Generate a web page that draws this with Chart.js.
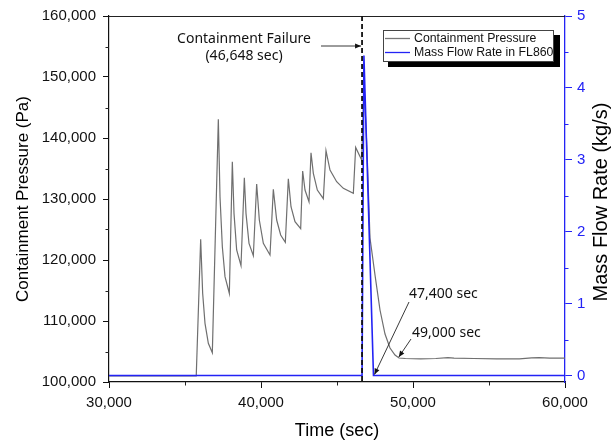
<!DOCTYPE html>
<html><head><meta charset="utf-8">
<script src="https://cdn.jsdelivr.net/npm/chart.js@4/dist/chart.umd.min.js"></script>
<style>html,body{margin:0;padding:0;background:#fff}#wrap{width:614px;height:443px}</style>
</head><body><div id="wrap"><canvas id="c" width="614" height="443"></canvas></div>
<script>
// ---- data ----
const pressureTime = [30000, 35740, 36031, 36162, 36316, 36535, 36798, 37193, 37303, 37456, 37632, 37917,
  38114, 38224, 38399, 38684, 38904, 39013, 39211, 39496, 39715, 39890, 40154, 40592,
  40811, 41031, 41294, 41601, 41798, 41974, 42237, 42610, 42741, 42895, 43158,
  43290, 43443, 43706, 44101, 44276, 44540, 44978, 45417, 46075, 46228, 46623,
  46780, 46974, 47171, 47500, 47829, 48158, 48487, 48816, 49079,
  49500, 50500, 51500, 52300, 52700, 54000, 55500, 57000, 57800, 58300, 59000, 60000];
const pressurePa = [101000, 101000, 123385, 114535, 109618, 106340, 104810, 143052, 130378, 122183, 117267, 114535,
  136114, 127646, 121637, 119069, 133491, 127646, 122729, 120707, 132453, 126553, 122729, 120816,
  131579, 126553, 124095, 122893, 133327, 128739, 126280, 125133, 134584, 131470, 129558,
  137589, 134202, 131470, 130050, 137916, 134748, 132836, 131743, 130924, 138462, 136386,
  148500, 138025, 123602, 117537, 111801, 107867, 105573, 104425, 103934,
  103850, 103800, 103850, 104000, 103900, 103850, 103800, 103800, 103950, 104000, 103900, 103900];
const flowTime = [30000, 46648, 46770, 47400, 60000];
const flowRate = [0, 0, 4.45, 0, 0];
const xTicks = [30000, 40000, 50000, 60000];
const pressureTicks = [100000, 110000, 120000, 130000, 140000, 150000, 160000];
const flowTicks = [0, 1, 2, 3, 4, 5];
const failureTime = 46648;
const marks = [{label: '47,400 sec', t: 47400}, {label: '49,000 sec', t: 49000, p: 103934}];
const rightTitle = 'Mass Flow Rate (kg/s)';

const BLUE = '#2323f5';
const FONT = 'Liberation Sans, Arial, sans-serif';
const ANN = 'Noto Sans, Open Sans, sans-serif';
const fmt = v => Number(v).toLocaleString('en-US');

function arrow(ctx, x1, y1, x2, y2) {
  ctx.save();
  ctx.strokeStyle = '#222'; ctx.fillStyle = '#111'; ctx.lineWidth = 0.9;
  ctx.beginPath(); ctx.moveTo(x1, y1); ctx.lineTo(x2, y2); ctx.stroke();
  const a = Math.atan2(y2 - y1, x2 - x1), L = 6, W = 2.6;
  ctx.beginPath();
  ctx.moveTo(x2, y2);
  ctx.lineTo(x2 - L * Math.cos(a) + W * Math.sin(a), y2 - L * Math.sin(a) - W * Math.cos(a));
  ctx.lineTo(x2 - L * Math.cos(a) - W * Math.sin(a), y2 - L * Math.sin(a) + W * Math.cos(a));
  ctx.closePath(); ctx.fill();
  ctx.restore();
}

const deco = {
  id: 'deco',
  afterDatasetsDraw(chart) {
    const {ctx, chartArea: a, scales: {x, y, y1}} = chart;
    ctx.save();
    // top frame line
    ctx.strokeStyle = '#222'; ctx.lineWidth = 1;
    ctx.beginPath(); ctx.moveTo(a.left, a.top + 0.5); ctx.lineTo(a.right, a.top + 0.5); ctx.stroke();
    // minor ticks
    ctx.beginPath();
    for (let v = 35000; v < 60000; v += 10000) { const px = Math.round(x.getPixelForValue(v)) + 0.5; ctx.moveTo(px, a.bottom); ctx.lineTo(px, a.bottom + 3.5); }
    for (let v = 105000; v < 160000; v += 10000) { const py = Math.round(y.getPixelForValue(v)) + 0.5; ctx.moveTo(a.left - 3.5, py); ctx.lineTo(a.left, py); }
    ctx.stroke();
    ctx.strokeStyle = BLUE; ctx.beginPath();
    for (let v = 0.5; v < 5; v += 1) { const py = Math.round(y1.getPixelForValue(v)) + 0.5; ctx.moveTo(a.right, py); ctx.lineTo(a.right + 3.5, py); }
    ctx.stroke();
    // right axis title, reading bottom-to-top
    ctx.save();
    ctx.translate(601, (a.top + a.bottom) / 2 + 3);
    ctx.rotate(-Math.PI / 2);
    ctx.fillStyle = '#000'; ctx.font = '20px ' + FONT; ctx.textAlign = 'center'; ctx.textBaseline = 'middle';
    ctx.fillText(rightTitle, 0, 0);
    ctx.restore();
    // failure dashed line
    const fx = x.getPixelForValue(failureTime);
    ctx.strokeStyle = '#111'; ctx.lineWidth = 1.8; ctx.setLineDash([5, 3]);
    ctx.beginPath(); ctx.moveTo(fx, a.top); ctx.lineTo(fx, a.bottom); ctx.stroke();
    ctx.setLineDash([]);
    // annotation texts
    ctx.fillStyle = '#111'; ctx.font = '14px ' + ANN; ctx.textAlign = 'center'; ctx.textBaseline = 'middle';
    ctx.fillText('Containment Failure', 244, 39);
    ctx.fillText('(' + fmt(failureTime) + ' sec)', 244, 56);
    arrow(ctx, 321, 46, fx - 1, 46);
    ctx.textAlign = 'left';
    const m1 = marks[0], m2 = marks[1];
    ctx.fillText(m1.label, 409, 294);
    arrow(ctx, 409, 302, x.getPixelForValue(m1.t) + 1, y1.getPixelForValue(0) - 1);
    ctx.fillText(m2.label, 412, 333);
    arrow(ctx, 411, 339, x.getPixelForValue(m2.t) + 1, y.getPixelForValue(m2.p) - 1);
    // legend with shadow
    ctx.fillStyle = '#000'; ctx.fillRect(388, 35, 172, 32);
    ctx.fillStyle = '#fff'; ctx.fillRect(383, 30, 171, 32);
    ctx.strokeStyle = '#444'; ctx.lineWidth = 1; ctx.strokeRect(383.5, 30.5, 170, 31);
    ctx.lineWidth = 1.3;
    ctx.strokeStyle = '#777'; ctx.beginPath(); ctx.moveTo(385, 38.5); ctx.lineTo(410, 38.5); ctx.stroke();
    ctx.strokeStyle = BLUE; ctx.beginPath(); ctx.moveTo(385, 52.5); ctx.lineTo(410, 52.5); ctx.stroke();
    ctx.fillStyle = '#111'; ctx.font = '12.3px ' + FONT; ctx.textAlign = 'left';
    ctx.fillText(chart.data.datasets[1].label, 414, 39);
    ctx.fillText(chart.data.datasets[0].label, 414, 53);
    ctx.restore();
  }
};

new Chart(document.getElementById('c'), {
  type: 'line',
  data: {
    datasets: [
      {label: 'Mass Flow Rate in FL860', data: flowTime.map((t, i) => ({x: t, y: flowRate[i]})), yAxisID: 'y1',
       borderColor: BLUE, borderWidth: 1.6, pointRadius: 0, tension: 0, fill: false},
      {label: 'Containment Pressure', data: pressureTime.map((t, i) => ({x: t, y: pressurePa[i]})), yAxisID: 'y',
       borderColor: '#6f6f6f', borderWidth: 1.2, pointRadius: 0, tension: 0, fill: false}
    ]
  },
  options: {
    responsive: false, animation: false, devicePixelRatio: 1,
    layout: {padding: {top: 16, left: 0, right: 0, bottom: 0}},
    plugins: {legend: {display: false}, tooltip: {enabled: false}},
    scales: {
      x: {type: 'linear', min: 30000, max: 60000,
        afterBuildTicks: s => { s.ticks = xTicks.map(v => ({value: v})); },
        ticks: {callback: fmt, font: {family: FONT, size: 15}, color: '#111', padding: 6, maxRotation: 0, autoSkip: false},
        grid: {drawOnChartArea: false, drawTicks: true, tickLength: 6, tickColor: '#111', tickWidth: 1},
        border: {display: true, color: '#111', width: 1.2},
        title: {display: true, text: 'Time (sec)', font: {family: FONT, size: 18}, color: '#000', padding: {top: 0, bottom: 1}},
        afterFit: s => { s.height = 61; }},
      y: {type: 'linear', position: 'left', min: 100000, max: 160000,
        afterBuildTicks: s => { s.ticks = pressureTicks.map(v => ({value: v})); },
        ticks: {callback: fmt, font: {family: FONT, size: 15}, color: '#111', padding: 7},
        grid: {drawOnChartArea: false, drawTicks: true, tickLength: 6, tickColor: '#111', tickWidth: 1},
        border: {display: true, color: '#111', width: 1.2},
        title: {display: true, text: 'Containment Pressure (Pa)', font: {family: FONT, size: 17}, color: '#000', padding: {top: 13, bottom: 0}},
        afterFit: s => { s.width = 109; }},
      y1: {type: 'linear', position: 'right', min: -0.09, max: 5,
        afterBuildTicks: s => { s.ticks = flowTicks.map(v => ({value: v})); },
        ticks: {callback: v => String(v), font: {family: FONT, size: 15}, color: BLUE, padding: 5},
        grid: {drawOnChartArea: false, drawTicks: true, tickLength: 7, tickColor: BLUE, tickWidth: 1},
        border: {display: true, color: BLUE, width: 1.3},
        title: {display: false},
        afterFit: s => { s.width = 49; }}
    }
  },
  plugins: [deco]
});
</script>
</body></html>
